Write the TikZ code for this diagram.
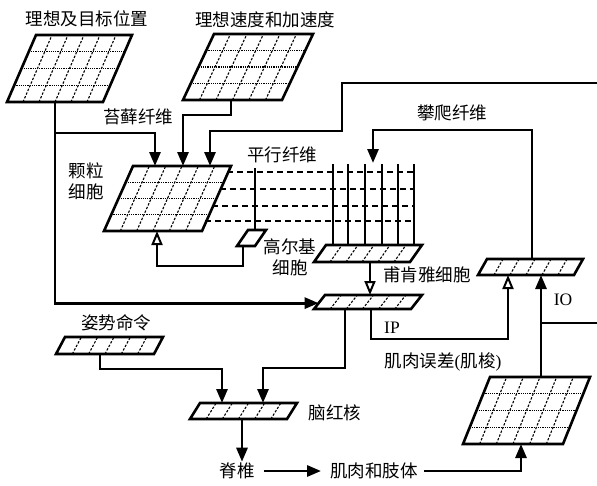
\documentclass[tikz,border=0pt]{standalone}
\usepackage{fontspec}
\setmainfont{Liberation Serif}
\newfontfamily\cjk{Noto Sans CJK SC}
\usetikzlibrary{arrows.meta, calc}
\tikzset{
  every node/.style={font=\fontsize{17.5}{21}\selectfont, inner sep=1pt},
  wire/.style={line width=2.8pt},
  arr/.style={wire, -{Triangle[length=14pt,width=11pt]}},
  oarr/.style={wire, -{Triangle[open,length=14pt,width=11pt,line width=2pt]}},
  frame/.style={line width=2.6pt, line join=miter},
  vgrid/.style={line width=1.1pt, dash pattern=on 2.4pt off 1.6pt},
  hgrid/.style={line width=1.1pt, dash pattern=on 1.2pt off 1pt},
  pfiber/.style={line width=2.2pt, dash pattern=on 6pt off 4pt},
  lbl/.style={align=center},
}
% parallelogram of cells: name, left x, bottom y, width, top y, slant, inner cols, inner rows
\newcommand{\cellslab}[8]{%
  \coordinate (#1-bl) at (#2,#3);
  \coordinate (#1-br) at (#2+#4,#3);
  \coordinate (#1-tl) at (#2+#6,#5);
  \coordinate (#1-tr) at (#2+#6+#4,#5);
  \ifnum#7>0
    \foreach \i in {1,...,#7} {\pgfmathsetmacro\fr{\i/(#7+1)}
      \draw[vgrid] ($(#1-bl)!\fr!(#1-br)$) -- ($(#1-tl)!\fr!(#1-tr)$);}
  \fi
  \ifnum#8>0
    \foreach \i in {1,...,#8} {\pgfmathsetmacro\fr{\i/(#8+1)}
      \draw[hgrid] ($(#1-bl)!\fr!(#1-tl)$) -- ($(#1-br)!\fr!(#1-tr)$);}
  \fi
  \draw[frame] (#1-bl) -- (#1-br) -- (#1-tr) -- (#1-tl) -- cycle;
}

\begin{document}
\begin{tikzpicture}[x=1pt, y=-1pt]
  \useasboundingbox (0,0) rectangle (597,485);

  % ---- cell layers ---------------------------------------------------------
  \cellslab{aim}{7}{102}{96}{35}{29}{5}{3}
  \cellslab{vel}{183}{100}{99}{34}{31}{5}{3}
  \cellslab{gr}{104}{231}{98}{166}{29}{5}{3}
  \cellslab{msp}{463}{444}{100}{377}{27}{5}{3}
  \cellslab{pc}{314}{262}{96}{245}{12}{5}{0}
  \cellslab{go}{237}{246}{18}{230}{11}{0}{0}
  \cellslab{ip}{314}{309}{97}{295}{11}{5}{0}
  \cellslab{io}{478}{275}{96}{259}{9}{5}{0}
  \cellslab{rn}{190}{419}{97}{403}{10}{5}{0}
  \cellslab{pos}{56}{354}{98}{337}{9}{5}{0}

  % ---- labels --------------------------------------------------------------
  \node (taim) at (87,19) {\cjk 理想及目标位置};
  \node (tvel) at (265,20) {\cjk 理想速度和加速度};
  \node (tmf)  at (138,117) {\cjk 苔藓纤维};
  \node[lbl] (tgr) at (86,181) {\cjk 颗粒\\\cjk 细胞};
  \node (tpf)  at (282,155) {\cjk 平行纤维};
  \node[lbl] (tgo) at (290,257) {\cjk 高尔基\\\cjk 细胞};
  \node (tcf)  at (452,113) {\cjk 攀爬纤维};
  \node (tpc)  at (427,275) {\cjk 甫肯雅细胞};
  \node (tip)  at (392,328) {IP};
  \node (terr) at (443,362) {{\cjk 肌肉误差}({\cjk 肌梭})};
  \node (tio)  at (563,300) {IO};
  \node (tpos) at (116,323) {\cjk 姿势命令};
  \node (trn)  at (335,413) {\cjk 脑红核};
  \node (spine) at (237,471) {\cjk 脊椎};
  \node (limb)  at (374,471) {\cjk 肌肉和肢体};

  % ---- connection points ---------------------------------------------------
  \coordinate (aim-out) at (55,102);
  \coordinate (vel-out) at (231,100);
  \coordinate (ip-w) at ($(ip-bl)!0.42!(ip-tl)$);
  \coordinate (mf-a) at (155,133);
  \coordinate (gr-a) at (155,166);
  \coordinate (gr-b) at (183,166);
  \coordinate (gr-c) at (210,166);
  \coordinate (fb-r) at (597,83);
  \coordinate (fb-k) at (342,131);
  \coordinate (go-in) at (255,168);
  \coordinate (go-top) at (255,230);
  \coordinate (go-out) at (243,246);
  \coordinate (gr-in) at (157,231);
  \coordinate (io-cf) at (532,259);
  \coordinate (cf-k) at (373,130);
  \coordinate (pc-cf) at (373,163);
  \coordinate (pc-out) at (370,262);
  \coordinate (ip-top) at (370,295);
  \coordinate (ip-o1) at (345,309);
  \coordinate (ip-o2) at (371,309);
  \coordinate (rn-a) at (222,403);
  \coordinate (rn-b) at (263,403);
  \coordinate (io-a) at (508,275);
  \coordinate (io-b) at (541,275);
  \coordinate (msp-top) at (541,377);
  \coordinate (msp-in) at (521,444);
  \coordinate (sp-k) at (541,323);
  \coordinate (sp-r) at (597,323);
  \coordinate (pos-out) at (100,354);
  \coordinate (rn-out) at (242,419);

  % ---- fibres --------------------------------------------------------------
  \foreach \y in {172,189,206,221}
    \draw[pfiber] ({230-(\y-166)*29/65},\y) -- (414,\y);
  \foreach \x in {333,348,365,382,398,414}
    \draw[wire] (\x,164) -- (\x,245);
  \draw[wire] (go-in) -- (go-top);

  % ---- connectors ----------------------------------------------------------
  \draw[arr] (aim-out) |- (ip-w);
  \draw[arr] (aim-out |- mf-a) -- (mf-a) -- (gr-a);
  \draw[arr] (vel-out) -- ++(0,15) -| (gr-b);
  \draw[arr] (fb-r) -| (fb-k) -| (gr-c);
  \draw[oarr] (go-out) -- ++(0,20) -| (gr-in);
  \draw[arr] (io-cf) |- (cf-k) -- (pc-cf);
  \draw[oarr] (pc-out) -- (ip-top);
  \draw[arr] (ip-o1) -- ++(0,59) -| (rn-b);
  \draw[oarr] (ip-o2) -- ++(0,30) -| (io-a);
  \draw[arr] (pos-out) -- ++(0,15) -| (rn-a);
  \draw[arr] (rn-out) -- (rn-out |- spine.north);
  \draw[arr] (spine.east) ++(8,0) -- ($(limb.west)+(-8,0)$);
  \draw[arr] ($(limb.east)+(5,0)$) -| (msp-in);
  \draw[arr] (msp-top) -- (io-b);
  \draw[wire] (sp-k) -- (sp-r);
\end{tikzpicture}
\end{document}
